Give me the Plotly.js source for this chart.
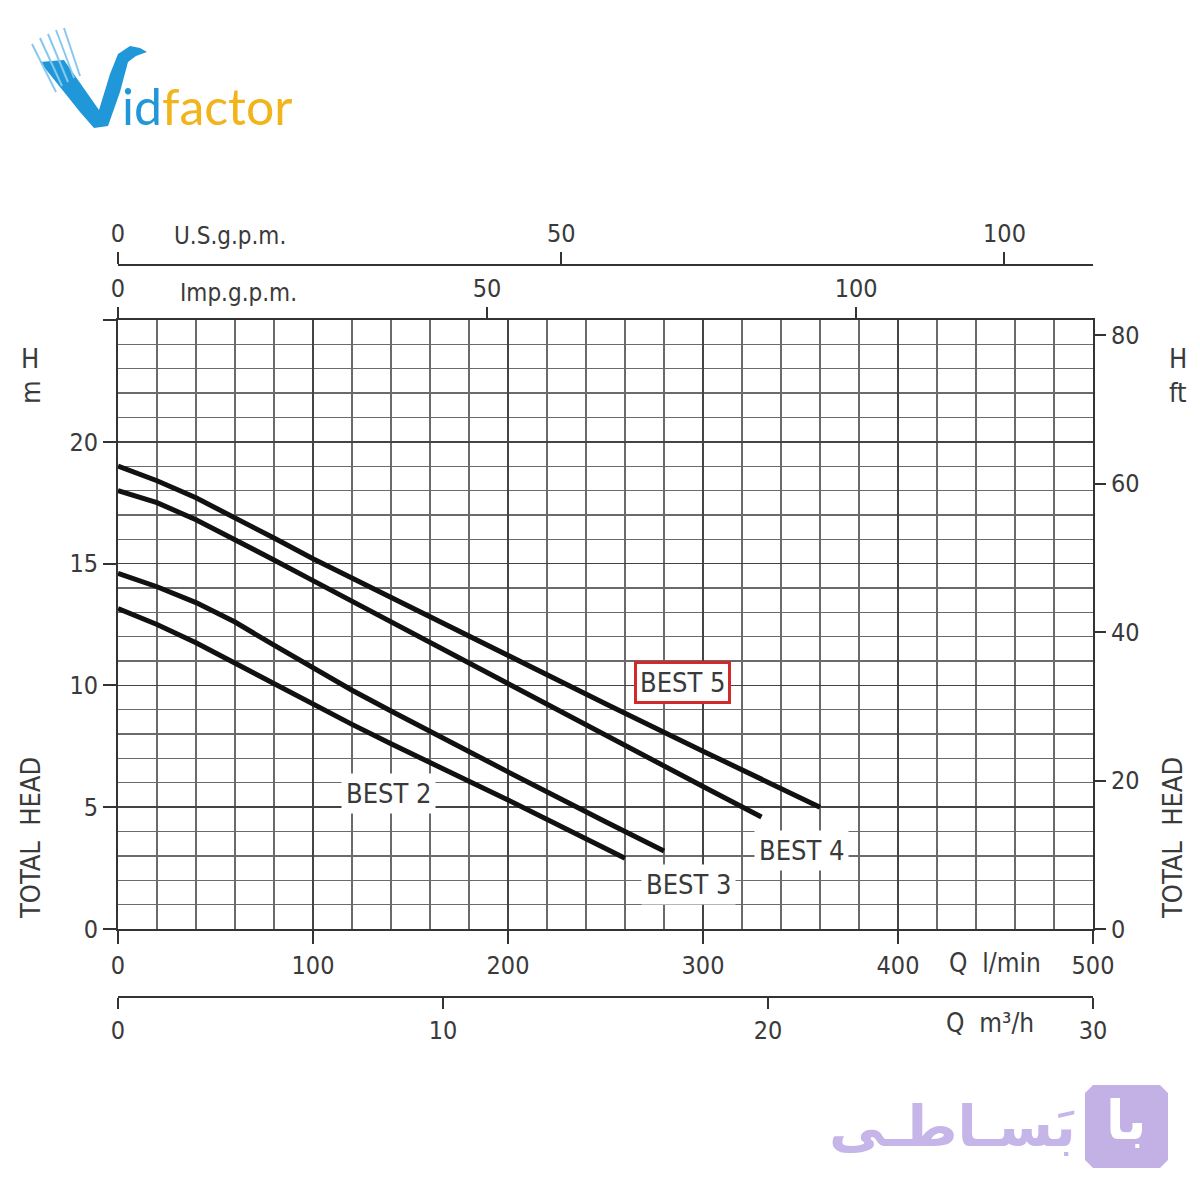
<!DOCTYPE html>
<html>
<head>
<meta charset="utf-8">
<script src="https://cdn.plot.ly/plotly-3.0.1.min.js"></script>
<style>html,body{margin:0;padding:0;background:#fff;}#chart{width:1200px;height:1200px;}</style>
</head>
<body>
<div id="chart"></div>
<script>
// ---- data (flow Q in l/min, head H in m) ----
const qBest5 = [0,20,40,60,80,100,120,140,160,180,200,250,300,360];
const hBest5 = [19.0,18.4,17.7,16.9,16.05,15.2,14.4,13.6,12.8,12.0,11.2,9.25,7.3,5.0];
const qBest4 = [0,20,40,60,80,100,120,140,160,180,200,250,300,330];
const hBest4 = [18.0,17.5,16.8,16.0,15.15,14.3,13.45,12.6,11.75,10.9,10.05,7.95,5.85,4.6];
const qBest3 = [0,20,40,60,80,100,120,140,160,200,250,280];
const hBest3 = [14.6,14.05,13.4,12.6,11.65,10.7,9.8,8.95,8.1,6.45,4.4,3.2];
const qBest2 = [0,20,40,60,80,100,120,140,160,200,250,260];
const hBest2 = [13.15,12.5,11.75,10.9,10.05,9.2,8.4,7.6,6.85,5.3,3.3,2.9];

const seriesNames = ['BEST 5','BEST 4','BEST 3','BEST 2'];
const lminTicks = [0,100,200,300,400,500];
const headTicks = [0,5,10,15,20,25];
const headTickText = ['0','5','10','15','20',''];
const ftTicks = [0,20,40,60,80];
const m3hTicks = [0,10,20,30];
const impTicks = [0,50,100];
const usTicks = [0,50,100];

// ---- layout helpers ----
const W = 1200, H = 1200;
const ML = 118, MR = 107, MT = 200, MB = 150;
const PW = W - ML - MR, PH = H - MT - MB;
const px = x => (x - ML) / PW;
const py = y => (H - MB - y) / PH;

const FONT = '"DejaVu Sans Condensed", "Liberation Sans Narrow", "DejaVu Sans", sans-serif';
const TXT = '#3a3a3a';
const tickFont = {family: FONT, size: 25, color: TXT};

const curveLine = {color: '#111', width: 5, shape: 'linear'};
const traces = [
  {x: qBest5, y: hBest5, name: seriesNames[0], mode: 'lines', line: curveLine},
  {x: qBest4, y: hBest4, name: seriesNames[1], mode: 'lines', line: curveLine},
  {x: qBest3, y: hBest3, name: seriesNames[2], mode: 'lines', line: curveLine},
  {x: qBest2, y: hBest2, name: seriesNames[3], mode: 'lines', line: curveLine},
  {x: [], y: [], xaxis: 'x', yaxis: 'y2', mode: 'lines'},
  {x: [], y: [], xaxis: 'x3', yaxis: 'y', mode: 'lines'},
  {x: [], y: [], xaxis: 'x4', yaxis: 'y', mode: 'lines'},
  {x: [], y: [], xaxis: 'x5', yaxis: 'y', mode: 'lines'}
].map(t => Object.assign({showlegend: false, hoverinfo: 'skip'}, t));

const yDom = [py(929), py(320)];

function lbl(text, x, y, size, extra) {
  return Object.assign({text: text, xref: 'paper', yref: 'paper', x: px(x), y: py(y),
    xanchor: 'center', yanchor: 'middle', showarrow: false,
    font: {family: FONT, size: size || 26, color: TXT}}, extra || {});
}
function dlbl(text, q, h, extra) {
  return Object.assign({text: text, xref: 'x', yref: 'y', x: q, y: h,
    xanchor: 'center', yanchor: 'middle', showarrow: false, bgcolor: '#fff', borderpad: 4,
    font: {family: FONT, size: 27, color: TXT}}, extra || {});
}
function pathFromPx(pts) {
  return pts.map((p, i) => (i ? 'L' : 'M') + px(p[0]).toFixed(5) + ',' + py(p[1]).toFixed(5)).join(' ') + ' Z';
}
function featherLine(x0, y0, x1, y1) {
  return {type: 'line', xref: 'paper', yref: 'paper', x0: px(x0), y0: py(y0), x1: px(x1), y1: py(y1),
    line: {color: '#86c8ef', width: 2}};
}

const layout = {
  width: W, height: H,
  margin: {l: ML, r: MR, t: MT, b: MB, pad: 0},
  paper_bgcolor: '#fff', plot_bgcolor: '#fff',
  showlegend: false,
  xaxis: {
    range: [0, 500], tickvals: lminTicks, ticks: 'outside', ticklen: 13, tickwidth: 2, tickcolor: '#333',
    showline: true, linecolor: '#333', linewidth: 2, mirror: true, zeroline: false,
    showgrid: true, gridcolor: '#444', gridwidth: 1.8,
    minor: {dtick: 20, showgrid: true, gridcolor: '#6a6a6a', gridwidth: 1.3, ticks: ''},
    tickfont: tickFont, fixedrange: true
  },
  yaxis: {
    domain: yDom, range: [0, 25], tickvals: headTicks, ticktext: headTickText,
    ticks: 'outside', ticklen: 13, tickwidth: 2, tickcolor: '#333',
    showline: true, linecolor: '#333', linewidth: 2, mirror: true, zeroline: false,
    showgrid: true, gridcolor: '#444', gridwidth: 1.8,
    minor: {dtick: 1, showgrid: true, gridcolor: '#6a6a6a', gridwidth: 1.3, ticks: ''},
    tickfont: tickFont, fixedrange: true
  },
  yaxis2: {
    overlaying: 'y', side: 'right', range: [0, 25 / 0.3048], tickvals: ftTicks,
    ticks: 'outside', ticklen: 12, tickwidth: 2, tickcolor: '#333',
    showline: false, showgrid: false, zeroline: false, tickfont: tickFont, fixedrange: true
  },
  xaxis3: {
    overlaying: 'x', anchor: 'y', side: 'top', range: [0, 500 / 3.785], tickvals: impTicks,
    ticks: 'outside', ticklen: 12, tickwidth: 2, tickcolor: '#333',
    showline: false, showgrid: false, zeroline: false, tickfont: tickFont, fixedrange: true
  },
  xaxis4: {
    overlaying: 'x', anchor: 'free', position: py(265), side: 'top', range: [0, 500 / 4.546], tickvals: usTicks,
    ticks: 'outside', ticklen: 12, tickwidth: 2, tickcolor: '#333',
    showline: true, linecolor: '#333', linewidth: 2,
    showgrid: false, zeroline: false, tickfont: tickFont, fixedrange: true
  },
  xaxis5: {
    overlaying: 'x', anchor: 'free', position: py(997), side: 'bottom', range: [0, 30], tickvals: m3hTicks,
    ticks: 'outside', ticklen: 11, tickwidth: 2, tickcolor: '#333',
    showline: true, linecolor: '#333', linewidth: 2,
    showgrid: false, zeroline: false, tickfont: tickFont, fixedrange: true
  },
  annotations: [
    lbl('U.S.g.p.m.', 230, 236, 24),
    lbl('Imp.g.p.m.', 238, 293, 24),
    lbl('H', 30, 358, 27),
    lbl('m', 30, 392, 27, {textangle: -90}),
    lbl('H', 1178, 358, 27),
    lbl('ft', 1178, 392, 27),
    lbl('TOTAL  HEAD', 30, 838, 27, {textangle: -90}),
    lbl('TOTAL  HEAD', 1172, 838, 27, {textangle: -90}),
    lbl('Q  l/min', 995, 963, 26, {bgcolor: '#fff'}),
    lbl('Q  m\u00b3/h', 990, 1023, 26),
    dlbl('BEST 5', 289.7, 10.12, {bordercolor: '#d12a2a', borderwidth: 3, borderpad: 3}),
    dlbl('BEST 4', 350.3, 3.24),
    dlbl('BEST 3', 292.8, 1.84),
    dlbl('BEST 2', 138.5, 5.57),
    // logos
    lbl('<span style="color:#1f97d8">id</span><span style="color:#f1b41a">factor</span>', 207, 106, 50,
        {font: {family: 'Lato, "Open Sans", sans-serif', size: 50, color: '#1f97d8'}}),
    lbl('\u0628\u064e\u0633\u0640\u0627\u0637\u0640\u06cc', 952, 1126, 56,
        {font: {family: '"DejaVu Sans", sans-serif', size: 56, color: '#c6b5e8', weight: 'bold'}}),
    lbl('\u0628\u0627', 1126, 1120, 54,
        {font: {family: '"DejaVu Sans", sans-serif', size: 54, color: '#ffffff', weight: 'bold'}})
  ],
  shapes: [
    {type: 'path', xref: 'paper', yref: 'paper', fillcolor: '#c3b1e6', line: {width: 0}, layer: 'below',
     path: pathFromPx([[1093,1085],[1160,1085],[1168,1093],[1168,1160],[1160,1168],[1093,1168],[1085,1160],[1085,1093]])},
    {type: 'path', xref: 'paper', yref: 'paper', fillcolor: '#1f97d8', line: {width: 0}, layer: 'above',
     path: pathFromPx([[40,62],[64,60],[99,110],[110,74],[118,54],[130,46],[140,48],[147,52],[136,56],[128,62],[120,92],[108,126],[94,128],[80,112]])},
    featherLine(32, 44, 56, 92),
    featherLine(40, 38, 62, 86),
    featherLine(48, 34, 68, 82),
    featherLine(56, 30, 74, 78),
    featherLine(64, 28, 80, 76)
  ]
};

Plotly.newPlot('chart', traces, layout, {staticPlot: true, displayModeBar: false});
</script>
</body>
</html>
